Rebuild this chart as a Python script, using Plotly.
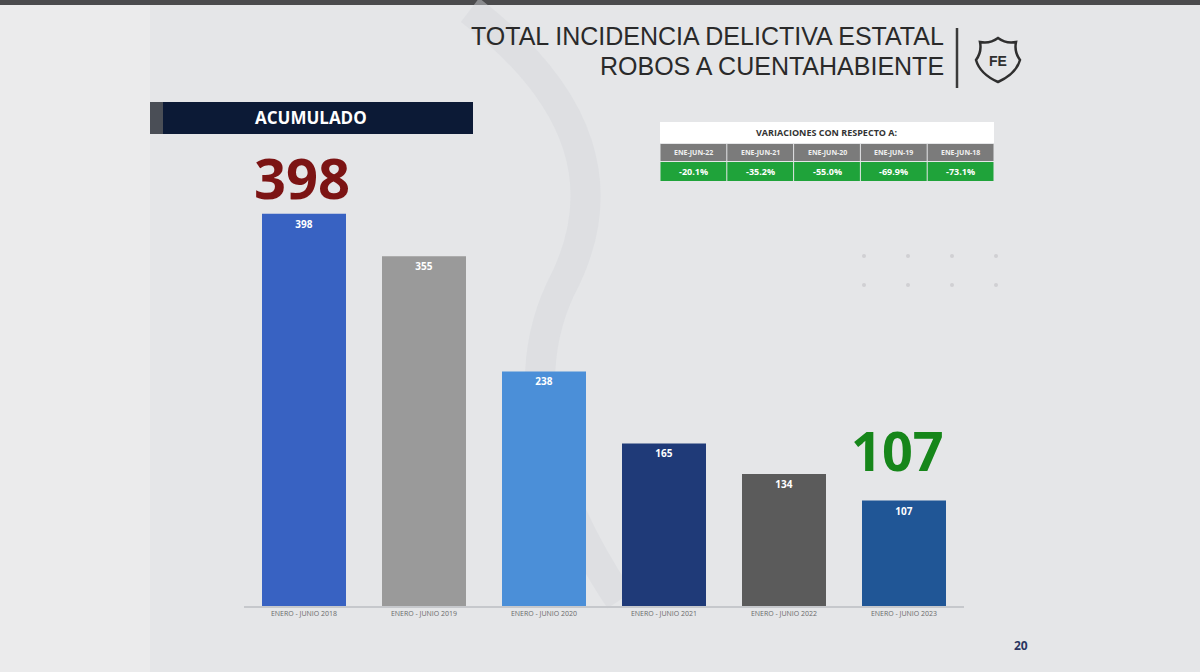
import plotly.graph_objects as go

categories = ["ENERO - JUNIO 2018", "ENERO - JUNIO 2019", "ENERO - JUNIO 2020",
              "ENERO - JUNIO 2021", "ENERO - JUNIO 2022", "ENERO - JUNIO 2023"]
values = [398, 355, 238, 165, 134, 107]
bar_colors = ["#3862c2", "#9a9a9a", "#4b8fd8", "#1f3a78", "#5b5b5b", "#205696"]

var_periods = ["ENE-JUN-22", "ENE-JUN-21", "ENE-JUN-20", "ENE-JUN-19", "ENE-JUN-18"]
var_values = ["-20.1%", "-35.2%", "-55.0%", "-69.9%", "-73.1%"]

W, H = 1200, 672
L, R, T, B = 244, 964, 200, 606
fig = go.Figure()
fig.add_trace(go.Bar(
    x=categories, y=values, marker=dict(color=bar_colors, line=dict(width=0)),
    width=0.7, text=[str(v) for v in values], textposition="inside",
    insidetextanchor="end", textangle=0,
    textfont=dict(family="Open Sans", size=10, color="white", weight="bold"),
    hoverinfo="skip", cliponaxis=False,
))

shapes = []
annotations = []

def px(x):
    return (x - L) / (R - L)

def py(y):
    return (B - y) / (B - T)

# top dark strip
shapes.append(dict(type="rect", xref="paper", yref="paper", x0=px(0), x1=px(W), y0=py(5), y1=py(0),
                   fillcolor="#4b4b4d", line=dict(width=0), layer="below"))
# slightly lighter left band
shapes.append(dict(type="rect", xref="paper", yref="paper", x0=px(0), x1=px(150), y0=py(H), y1=py(5),
                   fillcolor="#ebebec", line=dict(width=0), layer="below"))
# faint watermark curve
shapes.append(dict(type="path", xref="paper", yref="paper",
                   path="M {},{} Q {},{} {},{} Q {},{} {},{}".format(
                       px(470), py(10), px(640), py(140), px(560), py(290),
                       px(500), py(420), px(620), py(600)),
                   line=dict(color="rgba(212,215,220,0.45)", width=30), layer="below"))

# ACUMULADO banner
shapes.append(dict(type="rect", xref="paper", yref="paper", x0=px(150), x1=px(473), y0=py(134), y1=py(102),
                   fillcolor="#0c1a36", line=dict(width=0)))
shapes.append(dict(type="rect", xref="paper", yref="paper", x0=px(150), x1=px(163), y0=py(134), y1=py(102),
                   fillcolor="#4a4e56", line=dict(width=0)))
annotations.append(dict(xref="paper", yref="paper", x=px(311), y=py(118), text="<b>ACUMULADO</b>",
                        showarrow=False, font=dict(family="Open Sans", size=17, color="white"),
                        xanchor="center", yanchor="middle"))

# Title
annotations.append(dict(xref="paper", yref="paper", x=px(946), y=py(36), text="TOTAL INCIDENCIA DELICTIVA ESTATAL",
                        showarrow=False, font=dict(family="Liberation Sans", size=25, color="#2a2a2a"),
                        xanchor="right", yanchor="middle"))
annotations.append(dict(xref="paper", yref="paper", x=px(946), y=py(66), text="ROBOS A CUENTAHABIENTE",
                        showarrow=False, font=dict(family="Liberation Sans", size=25, color="#2a2a2a"),
                        xanchor="right", yanchor="middle"))
shapes.append(dict(type="line", xref="paper", yref="paper", x0=px(957), x1=px(957), y0=py(88), y1=py(28),
                   line=dict(color="#3a3a3a", width=2.5)))
# shield logo
shapes.append(dict(type="path", xref="paper", yref="paper",
                   path="M {},{} Q {},{} {},{} Q {},{} {},{} Q {},{} {},{} Q {},{} {},{} Q {},{} {},{} Q {},{} {},{} Z".format(
                       px(998), py(38),
                       px(1006), py(44), px(1016), py(42),
                       px(1014), py(52), px(1020), py(60),
                       px(1016), py(74), px(998), py(82),
                       px(980), py(74), px(976), py(60),
                       px(982), py(52), px(980), py(42),
                       px(990), py(44), px(998), py(38)),
                   line=dict(color="#2f2f2f", width=2.5), fillcolor="rgba(0,0,0,0)"))
annotations.append(dict(xref="paper", yref="paper", x=px(998), y=py(61), text="<b>FE</b>",
                        showarrow=False, font=dict(family="Liberation Sans", size=14, color="#2f2f2f"),
                        xanchor="center", yanchor="middle"))

# Big numbers
annotations.append(dict(xref="paper", yref="paper", x=px(302), y=py(177), text="<b>398</b>",
                        showarrow=False, font=dict(family="Open Sans", size=56, color="#7c1414"),
                        xanchor="center", yanchor="middle", borderpad=0))
annotations.append(dict(xref="paper", yref="paper", x=px(897), y=py(450), text="<b>107</b>",
                        showarrow=False, font=dict(family="Open Sans", size=54, color="#16861a"),
                        xanchor="center", yanchor="middle", borderpad=0))

# variations table
tx0, tx1 = 660, 994
shapes.append(dict(type="rect", xref="paper", yref="paper", x0=px(tx0), x1=px(tx1), y0=py(143), y1=py(122),
                   fillcolor="#ffffff", line=dict(width=0)))
annotations.append(dict(xref="paper", yref="paper", x=px((tx0 + tx1) / 2), y=py(132.5),
                        text="<b>VARIACIONES CON RESPECTO A:</b>", showarrow=False,
                        font=dict(family="Open Sans", size=9, color="#333333"), xanchor="center", yanchor="middle"))
cw = (tx1 - tx0) / len(var_periods)
for i, (p, v) in enumerate(zip(var_periods, var_values)):
    cx0 = tx0 + i * cw
    shapes.append(dict(type="rect", xref="paper", yref="paper", x0=px(cx0 + 0.5), x1=px(cx0 + cw - 0.5),
                       y0=py(161), y1=py(144), fillcolor="#7b7b7b", line=dict(width=0)))
    shapes.append(dict(type="rect", xref="paper", yref="paper", x0=px(cx0 + 0.5), x1=px(cx0 + cw - 0.5),
                       y0=py(181), y1=py(162), fillcolor="#1fa33a", line=dict(width=0)))
    annotations.append(dict(xref="paper", yref="paper", x=px(cx0 + cw / 2), y=py(152.5), text="<b>" + p + "</b>",
                            showarrow=False, font=dict(family="Open Sans", size=7, color="#f0f0f0"),
                            xanchor="center", yanchor="middle"))
    annotations.append(dict(xref="paper", yref="paper", x=px(cx0 + cw / 2), y=py(171.5), text="<b>" + v + "</b>",
                            showarrow=False, font=dict(family="Open Sans", size=9, color="#ffffff"),
                            xanchor="center", yanchor="middle"))

# page number
annotations.append(dict(xref="paper", yref="paper", x=px(1021), y=py(645), text="<b>20</b>",
                        showarrow=False, font=dict(family="Open Sans", size=12, color="#2a3560"),
                        xanchor="center", yanchor="middle"))

# faint dots decoration
for yy in [256, 285]:
    for xx in [864, 908, 952, 996]:
        shapes.append(dict(type="circle", xref="paper", yref="paper", x0=px(xx - 2), x1=px(xx + 2),
                           y0=py(yy + 2), y1=py(yy - 2), fillcolor="#d0d0d3", line=dict(width=0)))

fig.update_layout(
    width=W, height=H,
    margin=dict(l=L, r=W - R, t=T, b=H - B),
    paper_bgcolor="#e5e6e8", plot_bgcolor="rgba(0,0,0,0)",
    showlegend=False, bargap=0.3,
    shapes=shapes, annotations=annotations,
    xaxis=dict(showgrid=False, showline=True, linecolor="#c6c8cc", linewidth=1.5, ticks="",
               tickfont=dict(family="Open Sans", size=7, color="#6a6a6a"), fixedrange=True),
    yaxis=dict(range=[0, 412], visible=False, fixedrange=True),
)

fig.write_html("out.html")
